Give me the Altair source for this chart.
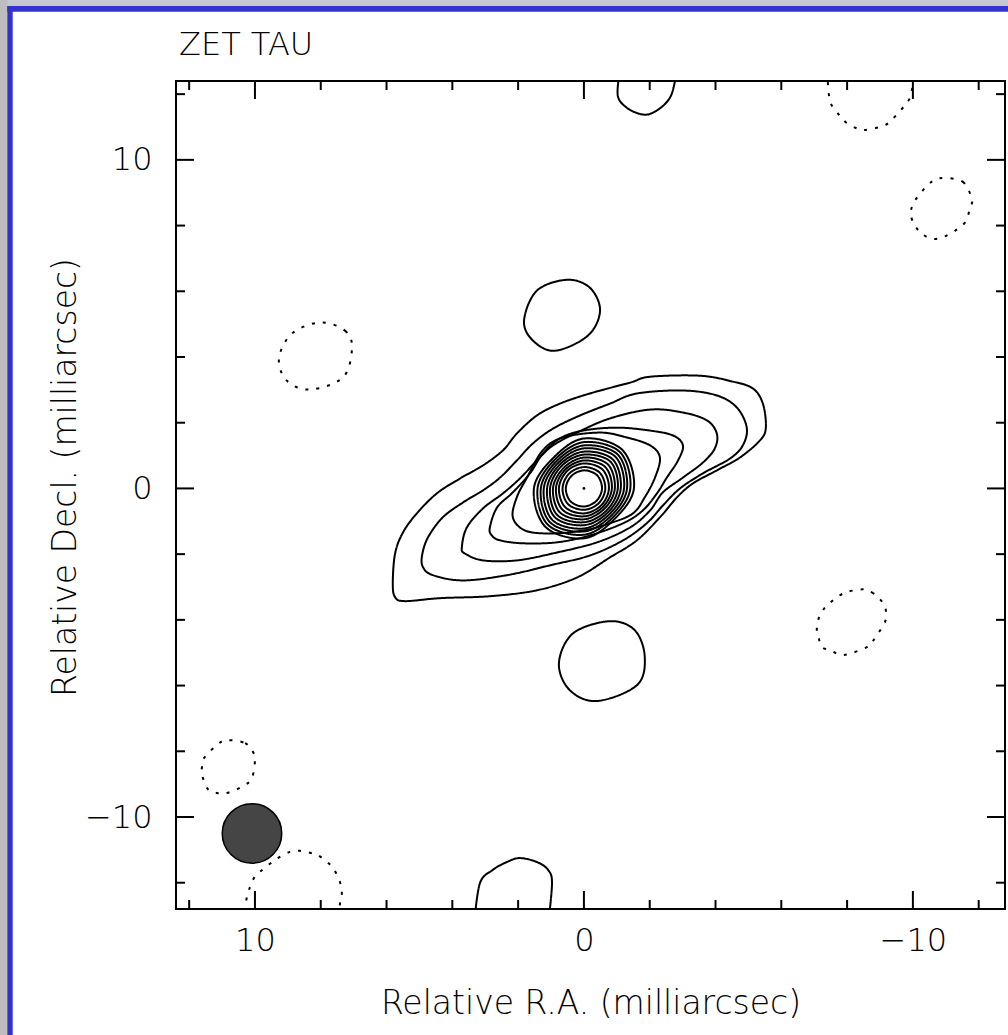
import altair as alt
import pandas as pd

# ---------------- text ----------------
TITLE = "ZET TAU"
X_TITLE = "Relative R.A. (milliarcsec)"
Y_TITLE = "Relative Decl. (milliarcsec)"

# ---------------- axes ----------------
X_DOMAIN = [12.4, -12.8]
Y_DOMAIN = [-12.8, 12.4]
LABEL_VALUES = [10, 0, -10]
MAJOR_TICKS = [10, 0, -10]
MINOR_TICKS = [12, 8, 6, 4, 2, -2, -4, -6, -8, -12]

# ---------------- contours (RA, Dec) in mas ----------------
# extended positive contours, outermost first
POS_A = [(5.81, -2.89), (5.74, -1.98), (5.50, -1.34), (5.08, -0.76), (4.47, -0.15), (3.77, 0.30),
         (3.07, 0.70), (2.46, 1.16), (2.04, 1.67), (1.43, 2.22), (0.73, 2.58), (-0.18, 2.89),
         (-1.40, 3.22), (-2.01, 3.40), (-3.53, 3.43), (-4.53, 3.25), (-5.14, 3.04), (-5.44, 2.58),
         (-5.53, 1.85), (-5.35, 1.46), (-4.74, 0.94), (-4.04, 0.55), (-3.31, 0.15), (-2.83, -0.27),
         (-2.31, -0.88), (-1.61, -1.58), (-0.79, -2.10), (0.21, -2.71), (1.43, -3.10), (2.86, -3.28),
         (4.38, -3.34), (5.44, -3.43), (5.74, -3.31)]
POS_B = [(4.92, -2.04), (4.74, -1.49), (4.29, -0.88), (3.68, -0.43), (3.07, -0.06), (2.55, 0.33),
         (2.04, 0.85), (1.55, 1.37), (0.94, 1.82), (0.12, 2.22), (-0.79, 2.58), (-1.61, 2.89),
         (-3.01, 2.98), (-4.04, 2.83), (-4.65, 2.46), (-4.95, 1.85), (-4.83, 1.31), (-4.44, 0.91),
         (-3.62, 0.46), (-2.92, 0.00), (-2.40, -0.52), (-1.91, -1.06), (-1.19, -1.58), (-0.18, -2.04),
         (1.03, -2.34), (2.34, -2.64), (3.68, -2.80), (4.59, -2.64), (4.89, -2.40)]
POS_C = [(3.71, -1.79), (3.56, -1.19), (3.07, -0.61), (2.46, -0.15), (1.95, 0.30), (1.43, 0.85),
         (0.94, 1.31), (0.21, 1.70), (-0.79, 2.13), (-2.01, 2.40), (-3.01, 2.31), (-3.74, 2.07),
         (-4.04, 1.67), (-3.98, 1.22), (-3.62, 0.79), (-3.01, 0.33), (-2.40, -0.12), (-2.01, -0.67),
         (-1.40, -1.19), (-0.40, -1.64), (0.82, -1.95), (2.04, -2.19), (3.07, -2.19), (3.62, -1.98)]
POS_D = [(2.86, -1.19), (2.64, -0.58), (2.16, -0.12), (1.64, 0.46), (1.25, 1.06), (0.73, 1.52),
         (0.03, 1.76), (-1.00, 1.85), (-2.01, 1.76), (-2.71, 1.61), (-3.01, 1.31), (-2.86, 0.85),
         (-2.52, 0.33), (-2.22, -0.15), (-1.79, -0.67), (-1.19, -1.06), (-0.18, -1.43), (0.82, -1.64),
         (1.85, -1.67), (2.55, -1.58), (2.80, -1.43)]
POS_E = [(2.16, -0.88), (2.04, -0.27), (1.73, 0.33), (1.25, 1.16), (0.64, 1.55), (-0.49, 1.70),
         (-1.31, 1.55), (-2.01, 1.31), (-2.31, 0.94), (-2.16, 0.33), (-1.85, -0.27), (-1.49, -0.76),
         (-0.79, -1.06), (0.03, -1.28), (1.03, -1.37), (1.79, -1.28)]

# compact core rings, innermost first (8 readings each)
CORE_1 = [(-0.55, 0), (-0.40, 0.40), (0, 0.55), (0.38, 0.38), (0.55, 0), (0.40, -0.40), (0, -0.55), (-0.38, -0.38)]
CORE_2 = [(-0.65, 0), (-0.48, 0.48), (0, 0.65), (0.45, 0.45), (0.65, 0), (0.48, -0.48), (0, -0.65), (-0.45, -0.45)]
CORE_3 = [(-0.76, 0), (-0.57, 0.57), (0, 0.76), (0.52, 0.52), (0.76, 0), (0.57, -0.57), (0, -0.76), (-0.52, -0.52)]
CORE_4 = [(-0.85, 0), (-0.65, 0.65), (0, 0.85), (0.57, 0.57), (0.85, 0), (0.65, -0.65), (0, -0.85), (-0.57, -0.57)]
CORE_5 = [(-0.94, 0), (-0.73, 0.73), (0, 0.94), (0.62, 0.62), (0.94, 0), (0.73, -0.73), (0, -0.94), (-0.62, -0.62)]
CORE_6 = [(-1.03, 0), (-0.81, 0.81), (0, 1.03), (0.68, 0.68), (1.03, 0), (0.81, -0.81), (0, -1.03), (-0.68, -0.68)]
CORE_7 = [(-1.12, 0), (-0.88, 0.88), (0, 1.12), (0.73, 0.73), (1.12, 0), (0.88, -0.88), (0, -1.12), (-0.73, -0.73)]
CORE_8 = [(-1.22, 0), (-0.96, 0.96), (0, 1.22), (0.78, 0.78), (1.22, 0), (0.96, -0.96), (0, -1.22), (-0.78, -0.78)]
CORE_9 = [(-1.31, 0), (-1.03, 1.03), (0, 1.31), (0.83, 0.83), (1.31, 0), (1.03, -1.03), (0, -1.31), (-0.83, -0.83)]
CORE_10 = [(-1.41, 0), (-1.10, 1.10), (0, 1.41), (0.88, 0.88), (1.41, 0), (1.10, -1.10), (0, -1.41), (-0.88, -0.88)]
CORE_11 = [(-1.52, 0), (-1.17, 1.17), (0, 1.52), (0.93, 0.93), (1.52, 0), (1.17, -1.17), (0, -1.52), (-0.93, -0.93)]
PEAK = [(0.0, 0.0)]

# positive side lobes (closed)
LOBE_N = [(0.52, 6.35), (-0.18, 6.11), (-0.49, 5.41), (-0.12, 4.65), (0.88, 4.19), (1.55, 4.50), (1.82, 5.11), (1.43, 6.02)]
LOBE_S = [(-0.79, -4.04), (-1.55, -4.32), (-1.85, -5.14), (-1.61, -5.99), (-0.40, -6.47), (0.43, -6.14), (0.76, -5.32), (0.33, -4.41)]
# negative side lobes (closed)
NEG_1 = [(8.02, 5.05), (7.26, 4.80), (7.05, 4.26), (7.33, 3.37), (8.33, 3.01), (9.03, 3.28), (9.27, 3.95), (8.88, 4.71)]
NEG_2 = [(-10.97, 9.45), (-11.52, 9.33), (-11.79, 8.81), (-11.73, 8.51), (-11.52, 8.02), (-10.76, 7.60),
         (-10.24, 7.78), (-9.94, 8.30), (-10.06, 8.75), (-10.43, 9.21), (-10.67, 9.39)]
NEG_3 = [(-8.48, -3.07), (-8.75, -3.16), (-8.97, -3.34), (-9.15, -3.59), (-9.18, -3.89), (-9.12, -4.13),
         (-8.78, -4.65), (-8.60, -4.83), (-8.02, -5.05), (-7.75, -5.05), (-7.48, -4.92), (-7.23, -4.83),
         (-7.14, -4.56), (-7.08, -4.35), (-7.11, -4.04), (-7.23, -3.77), (-7.42, -3.53), (-7.90, -3.19)]
NEG_4 = [(10.85, -7.66), (10.30, -7.75), (10.06, -8.02), (10.00, -8.27), (10.09, -8.81), (10.36, -9.06),
         (10.85, -9.27), (11.16, -9.27), (11.43, -9.15), (11.61, -8.72), (11.61, -8.48), (11.55, -8.21), (11.12, -7.78)]
# lobes cut by the frame (open arcs)
ARC_TOP = [(-1.09, 12.7), (-1.03, 11.95), (-1.31, 11.58), (-1.70, 11.40), (-2.01, 11.40), (-2.40, 11.64), (-2.67, 12.01), (-2.82, 12.7)]
ARC_BOTTOM = [(3.33, -13.2), (3.16, -12.01), (2.77, -11.61), (2.34, -11.37), (1.95, -11.25), (1.43, -11.37), (1.09, -11.61), (0.97, -12.01), (1.08, -13.2)]
NEG_ARC_TOP = [(-7.40, 12.7), (-7.48, 11.79), (-7.78, 11.34), (-7.99, 11.12), (-8.27, 10.97), (-8.54, 10.91),
               (-9.09, 11.03), (-9.36, 11.22), (-9.76, 11.67), (-9.94, 11.98), (-10.05, 12.7)]
NEG_ARC_BOTTOM = [(10.40, -13.2), (10.24, -12.43), (10.06, -11.91), (9.85, -11.67), (9.39, -11.31), (8.94, -11.06),
                  (8.63, -11.03), (8.33, -11.09), (8.09, -11.16), (7.81, -11.37), (7.63, -11.55), (7.48, -11.82),
                  (7.39, -12.07), (7.36, -12.37), (7.42, -12.67), (7.46, -13.2)]

# restoring beam
BEAM_RA = [10.09]
BEAM_DEC = [-10.50]
BEAM_DIAMETER = 2.04  # mas

# ---------------- layout ----------------
LEFT, TOP, W, H = 176, 81, 829, 828
FONT = "DejaVu Sans"
PX_PER_MAS = W / (X_DOMAIN[0] - X_DOMAIN[1])


def rows(contours, closed):
    out = []
    for cid, (pts, sign) in enumerate(contours):
        for i, (ra, dec) in enumerate(pts):
            out.append({"cid": f"{closed}-{cid}", "i": i, "ra": ra, "dec": dec, "sign": sign})
    return pd.DataFrame(out)


closed = [(POS_A, "pos"), (POS_B, "pos"), (POS_C, "pos"), (POS_D, "pos"), (POS_E, "pos"),
          (CORE_1, "pos"), (CORE_2, "pos"), (CORE_3, "pos"), (CORE_4, "pos"), (CORE_5, "pos"),
          (CORE_6, "pos"), (CORE_7, "pos"), (CORE_8, "pos"), (CORE_9, "pos"), (CORE_10, "pos"),
          (CORE_11, "pos"), (LOBE_N, "pos"), (LOBE_S, "pos"),
          (NEG_1, "neg"), (NEG_2, "neg"), (NEG_3, "neg"), (NEG_4, "neg")]
opened = [(ARC_TOP, "pos"), (ARC_BOTTOM, "pos"), (NEG_ARC_TOP, "neg"), (NEG_ARC_BOTTOM, "neg")]

XS = alt.Scale(domain=X_DOMAIN, nice=False, zero=False)
YS = alt.Scale(domain=Y_DOMAIN, nice=False, zero=False)
XAX = alt.Axis(values=LABEL_VALUES, ticks=False, tickSize=0, domain=False, grid=False,
               labelFont=FONT, labelFontSize=32, labelFontWeight=200, labelColor="black", labelPadding=16,
               title=X_TITLE, titleFont=FONT, titleFontSize=33, titleFontWeight=200, titleColor="black",
               titleBaseline="alphabetic", titleY=104)
YAX = alt.Axis(values=LABEL_VALUES, ticks=False, tickSize=0, domain=False, grid=False,
               labelFont=FONT, labelFontSize=32, labelFontWeight=200, labelColor="black", labelPadding=24,
               title=Y_TITLE, titleFont=FONT, titleFontSize=33, titleFontWeight=200, titleColor="black",
               titleBaseline="alphabetic", titleX=-101, titleY=396)

dash = alt.StrokeDash("sign:N", scale=alt.Scale(domain=["pos", "neg"], range=[[1, 0], [3, 8]]), legend=None)


def enc(chart):
    return chart.encode(x=alt.X("ra:Q", scale=XS, axis=XAX), y=alt.Y("dec:Q", scale=YS, axis=YAX))


closed_layer = enc(alt.Chart(rows(closed, "c")).mark_line(
    interpolate="cardinal-closed", color="black", strokeWidth=2, clip=True)).encode(
    detail="cid:N", order="i:Q", strokeDash=dash)
open_layer = enc(alt.Chart(rows(opened, "o")).mark_line(
    interpolate="cardinal", color="black", strokeWidth=2, clip=True)).encode(
    detail="cid:N", order="i:Q", strokeDash=dash)
peak_layer = enc(alt.Chart(pd.DataFrame({"ra": [p[0] for p in PEAK], "dec": [p[1] for p in PEAK]})).mark_circle(
    color="black", size=8, opacity=1))

beam_r_px = BEAM_DIAMETER / 2 * PX_PER_MAS
beam_layer = enc(alt.Chart(pd.DataFrame({"ra": BEAM_RA, "dec": BEAM_DEC})).mark_point(
    shape="circle", filled=True, fill="#454545", stroke="black", strokeWidth=1.5, opacity=1,
    size=3.14159 * beam_r_px ** 2))


def xticks(values, length):
    df = pd.DataFrame({"ra": values})
    base = alt.Chart(df).mark_rule(color="black", strokeWidth=2)
    top = base.encode(x=alt.X("ra:Q", scale=XS, axis=XAX), y=alt.value(0), y2=alt.value(length))
    bot = base.encode(x=alt.X("ra:Q", scale=XS, axis=XAX), y=alt.value(H), y2=alt.value(H - length))
    return [top, bot]


def yticks(values, length):
    df = pd.DataFrame({"dec": values})
    base = alt.Chart(df).mark_rule(color="black", strokeWidth=2)
    lft = base.encode(y=alt.Y("dec:Q", scale=YS, axis=YAX), x=alt.value(0), x2=alt.value(length))
    rgt = base.encode(y=alt.Y("dec:Q", scale=YS, axis=YAX), x=alt.value(W), x2=alt.value(W - length))
    return [lft, rgt]


one = pd.DataFrame({"k": [0]})


def block(x0, x1, y0, y1, color):
    return alt.Chart(one).mark_rect(color=color, clip=False).encode(
        x=alt.value(x0 - LEFT), x2=alt.value(x1 - LEFT), y=alt.value(y0 - TOP), y2=alt.value(y1 - TOP))


frame = [block(0, 1008, 0, 6, "#c5c8d0"), block(0, 7.3, 0, 1035, "#bdbdbd"),
         block(7.3, 1008, 6, 11.7, "#3333cc"), block(7.3, 12.7, 6, 1035, "#3333cc")]

title_layer = alt.Chart(one).mark_text(
    text=TITLE, align="left", baseline="alphabetic", font=FONT, fontSize=32, fontWeight=200,
    color="black", clip=False).encode(x=alt.value(179 - LEFT), y=alt.value(55 - TOP))

layers = [closed_layer, open_layer, peak_layer, beam_layer] + xticks(MAJOR_TICKS, 18) + xticks(MINOR_TICKS, 9) \
    + yticks(MAJOR_TICKS, 18) + yticks(MINOR_TICKS, 9) + frame + [title_layer]

chart = alt.layer(*layers).properties(
    width=W, height=H,
    autosize=alt.AutoSizeParams(type="none"),
    padding={"left": LEFT, "top": TOP, "right": 1008 - LEFT - W, "bottom": 1035 - TOP - H},
    background="white",
).configure_view(stroke="black", strokeWidth=2)

chart.save("out.html", embed_options={"renderer": "svg", "actions": False})
